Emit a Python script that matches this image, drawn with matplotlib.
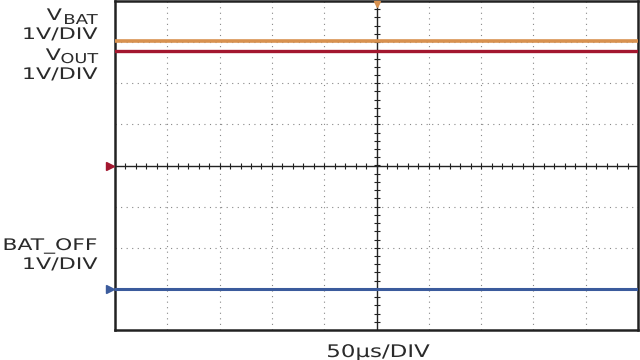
import matplotlib.pyplot as plt
import numpy as np
from matplotlib.patheffects import AbstractPathEffect
from matplotlib.transforms import Affine2D

# Escala: divisiones de osciloscopio (10 x 8)
t_div = [0, 2, 4, 6, 8, 10]
vbat = [3.03, 3.03, 3.03, 3.03, 3.03, 3.03]
vout = [2.79, 2.79, 2.79, 2.79, 2.79, 2.79]
bat_off = [-3.0, -3.0, -3.0, -3.0, -3.0, -3.0]

c_bat = '#d8914f'
c_out = '#a3172f'
c_off = '#3b5b9c'
c_txt = '#2a2a2a'

plt.rcParams['font.family'] = ['DejaVu Sans']


# Efecto para ensanchar el texto horizontalmente (la fuente original es muy ancha)
class Stretch(AbstractPathEffect):
    def __init__(self, sx, x0):
        super().__init__()
        self.sx = sx
        self.x0 = x0

    def draw_path(self, renderer, gc, tpath, affine, rgbFace=None):
        t = affine + Affine2D().translate(-self.x0, 0).scale(self.sx, 1).translate(self.x0, 0)
        renderer.draw_path(gc, tpath, t, rgbFace)


fig = plt.figure(figsize=(6.4, 3.6), dpi=100)
ax = fig.add_axes([115 / 640, 30 / 360, 523 / 640, 329 / 360])
ax.set_xlim(0, 10)
ax.set_ylim(-4, 4)

# Rejilla punteada
for k in range(1, 10):
    if k != 5:
        ax.axvline(k, color='#888888', lw=0.8, ls=(0, (1, 4)), zorder=1)
for k in range(-3, 4):
    if k != 0:
        ax.axhline(k, color='#888888', lw=0.8, ls=(0, (1, 4)), zorder=1)
ax.axvline(5, color='#222222', lw=1.0, zorder=1)
ax.axhline(0, color='#222222', lw=1.0, zorder=1)

# Marcas menores en los ejes centrales
minor_x = np.arange(0.2, 10, 0.2)
minor_y = np.arange(-3.8, 4, 0.2)
ax.plot(minor_x, np.zeros_like(minor_x), ls='none', marker='|', ms=5, mew=0.8, color='#222222', zorder=1)
ax.plot(np.full_like(minor_y, 5), minor_y, ls='none', marker='_', ms=5, mew=0.8, color='#222222', zorder=1)

# Trazas
ax.plot(t_div, vbat, color=c_bat, lw=2.6, zorder=3)
ax.plot(t_div, vout, color=c_out, lw=2.4, zorder=3)
ax.plot(t_div, bat_off, color=c_off, lw=2.2, zorder=3)

# Marcadores de referencia
ax.plot([-0.1], [0], marker='>', ms=6, color=c_out, clip_on=False, zorder=4)
ax.plot([-0.1], [-3.0], marker='>', ms=6, color=c_off, clip_on=False, zorder=4)
ax.plot([5], [3.93], marker='v', ms=4, color=c_bat, clip_on=False, zorder=4)

ax.set_xticks([])
ax.set_yticks([])
for s in ax.spines.values():
    s.set_linewidth(1.8)
    s.set_color('#222222')


# Etiquetas (posiciones en pixeles)
def label(x, y, s, size, sx, ha='right'):
    txt = fig.text(x / 640, 1 - y / 360, s, ha=ha, va='baseline', fontsize=size, color=c_txt)
    txt.set_path_effects([Stretch(sx, x)])
    return txt


label(62, 20, 'V', 11.5, 1.39)
label(98, 24, 'BAT', 9.8, 1.33)
label(98, 39, '1V/DIV', 11.5, 1.39)
label(61, 60, 'V', 11.5, 1.39)
label(98, 63, 'OUT', 9.8, 1.3)
label(98, 79, '1V/DIV', 11.5, 1.39)
label(98, 250, 'BAT_OFF', 11.5, 1.37)
label(98, 269, '1V/DIV', 11.5, 1.39)
label(378, 357, '50µs/DIV', 12.5, 1.32, ha='center')

fig.savefig('out.png', dpi=100)
